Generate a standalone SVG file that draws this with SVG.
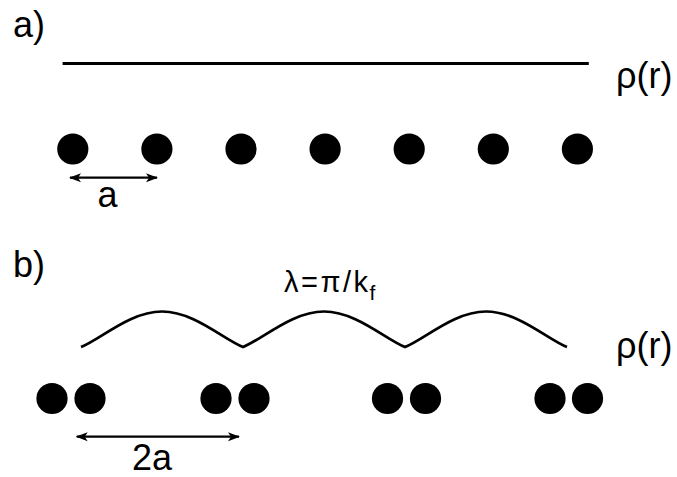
<svg xmlns="http://www.w3.org/2000/svg" width="677" height="477" viewBox="0 0 677 477">
<defs>
<style>
.lbl{font-family:"Liberation Sans",Arial,sans-serif;font-size:36px;fill:#000}
.sm{font-family:"Liberation Sans",Arial,sans-serif;font-size:29px;letter-spacing:2.5px;fill:#000}
.dot{fill:#000}
.ln{stroke:#000;fill:none}
</style>
<marker id="ah" viewBox="0 0 12 10" refX="11" refY="5" markerWidth="12" markerHeight="10" markerUnits="userSpaceOnUse" orient="auto-start-reverse">
<path d="M0,0.5 L12,5 L0,9.5 L3,5 z" fill="#000"/>
</marker>
</defs>
<rect width="677" height="477" fill="#fff"/>
<g id="panel-a">
<text id="label-a" class="lbl" x="13" y="37">a)</text>
<g id="density-a">
<line class="ln" x1="62.6" y1="63.5" x2="588.8" y2="63.5" stroke-width="3"/>
<text class="lbl" x="616" y="88">ρ(r)</text>
</g>
<g id="atoms-a">
<circle class="dot" cx="72.8" cy="149" r="15.6"/>
<circle class="dot" cx="156.9" cy="149" r="15.6"/>
<circle class="dot" cx="241" cy="149" r="15.6"/>
<circle class="dot" cx="325.1" cy="149" r="15.6"/>
<circle class="dot" cx="409.2" cy="149" r="15.6"/>
<circle class="dot" cx="493.3" cy="149" r="15.6"/>
<circle class="dot" cx="577.4" cy="149" r="15.6"/>
</g>
<text id="spacing-a" class="lbl" x="107.5" y="207" text-anchor="middle">a</text>
</g>
<g id="panel-b">
<text id="label-b" class="lbl" x="13" y="277">b)</text>
<g id="density-b">
<path class="ln" stroke-width="2.7" d="M81,347 C101,339 130,311.5 162,311.5 C194,311.5 223,339 243,347 C263,339 292,311.5 324,311.5 C356,311.5 385,339 405,347 C425,339 454,311.5 486,311.5 C518,311.5 547,339 567,347"/>
<text class="lbl" x="616" y="358">ρ(r)</text>
<text id="wavelength" class="sm" x="284" y="292">λ=π/k<tspan font-size="21" dy="8" dx="-1">f</tspan></text>
</g>
<g id="atoms-b">
<circle class="dot" cx="52" cy="398.5" r="15.6"/>
<circle class="dot" cx="90" cy="398.5" r="15.6"/>
<circle class="dot" cx="216" cy="398.5" r="15.6"/>
<circle class="dot" cx="254" cy="398.5" r="15.6"/>
<circle class="dot" cx="387.5" cy="398.5" r="15.6"/>
<circle class="dot" cx="425.5" cy="398.5" r="15.6"/>
<circle class="dot" cx="550" cy="398.5" r="15.6"/>
<circle class="dot" cx="587.5" cy="398.5" r="15.6"/>
</g>
<text id="spacing-b" class="lbl" x="152" y="470" text-anchor="middle">2a</text>
</g>
<g id="connectors">
<line class="ln" x1="70" y1="177.7" x2="157" y2="177.7" stroke-width="2.2" marker-start="url(#ah)" marker-end="url(#ah)"/>
<line class="ln" x1="76.7" y1="436.7" x2="239" y2="436.7" stroke-width="2.2" marker-start="url(#ah)" marker-end="url(#ah)"/>
</g>
</svg>
